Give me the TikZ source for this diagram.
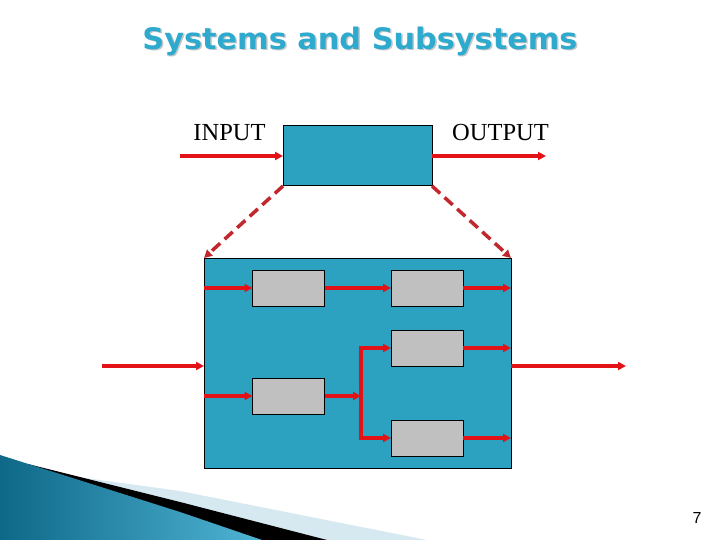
\documentclass[tikz,border=0pt]{standalone}
\usepackage{fontspec}
\setmainfont{Liberation Serif}
\newfontfamily\titlefont{DejaVu Sans}
\newfontfamily\numfont{Liberation Sans}
\usetikzlibrary{arrows.meta,calc}
\definecolor{titlecyan}{RGB}{46,170,206}
\definecolor{boxteal}{RGB}{44,161,192}
\definecolor{subgray}{RGB}{192,192,192}
\definecolor{flowred}{RGB}{226,18,22}
\definecolor{dashred}{RGB}{193,39,45}
\definecolor{swlight}{RGB}{214,232,240}
\definecolor{swdark}{RGB}{14,104,136}
\definecolor{swmid}{RGB}{80,180,212}
\begin{document}
\begin{tikzpicture}[x=1pt,y=-1pt,
  sysbox/.style={draw=black,line width=1pt,fill=boxteal,inner sep=0pt,outer sep=0pt},
  subbox/.style={draw=black,line width=1pt,fill=subgray,inner sep=0pt,outer sep=0pt,minimum width=72pt,minimum height=36pt},
  flow/.style={draw=flowred,line width=4.5pt,-{Triangle[length=8pt,width=8pt]}},
  zoomline/.style={draw=dashred,line width=3.5pt,dash pattern=on 11pt off 6pt,-{Triangle[length=8pt,width=8pt]}},
  lbl/.style={font=\fontsize{24.5}{28}\selectfont,inner sep=0pt}]
\useasboundingbox (0,0) rectangle (720,540);
% swoosh decoration
\fill[swlight] (78,477) -- (180,491) -- (427,540) -- (0,540) -- cycle;
\fill[black] (28,464) -- (180,502) -- (327,540) -- (0,540) -- cycle;
\shade[left color=swdark,right color=swmid] (0,455) -- (180,512) -- (262,540) -- (0,540) -- cycle;
% title
\node[text=black!22,anchor=base] at (361.5,51) {\resizebox{435pt}{22.5pt}{\titlefont\bfseries Systems and Subsystems}};
\node[text=titlecyan,anchor=base] (title) at (360,49.5) {\resizebox{435pt}{22.5pt}{\titlefont\bfseries Systems and Subsystems}};
% top system
\node[sysbox,minimum width=149pt,minimum height=60pt] (sys) at (357.5,156) {};
\node[lbl] (inlbl) at (229.5,133) {INPUT};
\node[lbl] (outlbl) at (500.5,133) {OUTPUT};
\coordinate (in0) at (180,156);
\coordinate (out0) at (546,156);
\draw[flow] (in0) -- (sys.west);
\draw[flow] (sys.east) -- (out0);
% big system
\node[sysbox,minimum width=307pt,minimum height=210pt] (big) at (357.5,363) {};
\draw[zoomline] (sys.south west) -- (big.north west);
\draw[zoomline] (sys.south east) -- (big.north east);
% subsystems
\node[subbox] (A) at (288.5,288) {};
\node[subbox] (B) at (427,288) {};
\node[subbox] (C) at (427,348) {};
\node[subbox] (D) at (288.5,396) {};
\node[subbox] (E) at (427,438) {};
\coordinate (in1) at (102,366);
\coordinate (out1) at (626,366);
\coordinate (split) at (361,396);
\coordinate (splittop) at (361,348);
\coordinate (splitbot) at (361,438);
\draw[flow] (in1) -- (big.west |- in1);
\draw[flow] (big.east |- out1) -- (out1);
\draw[flow] (big.west |- A.west) -- (A.west);
\draw[flow] (A.east) -- (B.west);
\draw[flow] (B.east) -- (big.east |- B.east);
\draw[flow] (C.east) -- (big.east |- C.east);
\draw[flow] (E.east) -- (big.east |- E.east);
\draw[flow] (big.west |- D.west) -- (D.west);
\draw[flow] (D.east) -- (split);
\draw[draw=flowred,line width=4.5pt] ([yshift=-2.25pt]splittop) -- ([yshift=2.25pt]splitbot);
\draw[flow] ([xshift=-2.25pt]splittop) -- (C.west);
\draw[flow] ([xshift=-2.25pt]splitbot) -- (E.west);
% page number
\node[font=\numfont\fontsize{16}{18}\selectfont,inner sep=0pt] (pnum) at (697,517.5) {7};
\end{tikzpicture}
\end{document}
